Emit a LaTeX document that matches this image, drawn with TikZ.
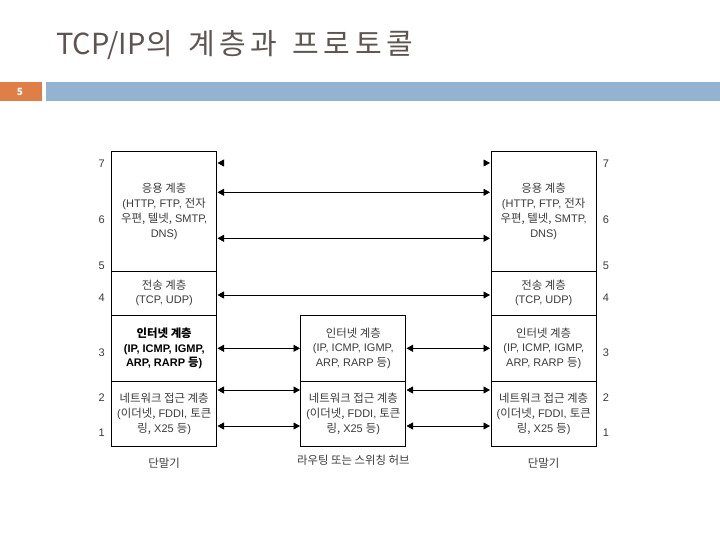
\documentclass[tikz,border=0pt]{standalone}
\usepackage{fontspec}
\setmainfont{Liberation Sans}
\newfontfamily\krfont{Noto Sans CJK KR}
\newfontfamily\titlefont{Noto Sans CJK KR}
\newfontfamily\titlekr[LetterSpace=16]{Noto Sans CJK KR}
\newcommand{\hg}[1]{{\krfont\fontsize{11.4}{14.8}\selectfont #1}}
\newcommand{\tk}[1]{{\titlekr #1}}
\usetikzlibrary{arrows.meta}
\definecolor{orangebar}{HTML}{DF7E47}
\definecolor{bluebar}{HTML}{94B3D3}
\definecolor{titlegray}{HTML}{5E5552}
\definecolor{txtgray}{HTML}{3A3A3A}
\tikzset{
  layer/.style={draw=black, line width=0.9pt, minimum width=105pt, inner sep=0pt, outer sep=0pt},
  ltext/.style={font=\fontsize{11}{14.8}\selectfont, text=txtgray, align=center, inner sep=0pt},
  numlbl/.style={font=\fontsize{11}{13}\selectfont, text=txtgray, inner sep=0pt},
  captxt/.style={font=\fontsize{11}{12}\selectfont, text=txtgray, inner sep=0pt},
  link/.style={line width=0.9pt, {Triangle[length=6.5pt,width=7pt]}-{Triangle[length=6.5pt,width=7pt]}},
  tipr/.style={line width=0.9pt, -{Triangle[length=6.5pt,width=7pt]}},
}
\begin{document}
\begin{tikzpicture}[x=1pt,y=-1pt]
\useasboundingbox (0,0) rectangle (720,540);
% header
\node[anchor=base west, inner sep=0pt, text=titlegray, font=\titlefont\fontsize{29}{34}\selectfont] (title) at (56,55) {TCP/IP\hspace{1pt}\tk{의}\hspace{15pt}\tk{계층과}\hspace{15pt}\tk{프로토콜}};
\fill[orangebar] (0,82) rectangle (42,101);
\node[text=white, font=\krfont\fontsize{10}{12}\selectfont\bfseries, inner sep=0pt] (pnum) at (20,91.5) {5};
\fill[bluebar] (46,82) rectangle (720,101);

% left host stack
\node[layer, minimum height=119.3pt] (LA) at (164.2,211.35) {};
\node[layer, minimum height=44pt] (LT) at (164.2,293) {};
\node[layer, minimum height=66.7pt] (LI) at (164.2,348.35) {};
\node[layer, minimum height=64.3pt] (LN) at (164.2,413.85) {};
% right host stack
\node[layer, minimum height=119.3pt] (RA) at (543.7,211.35) {};
\node[layer, minimum height=44pt] (RT) at (543.7,293) {};
\node[layer, minimum height=66.7pt] (RI) at (543.7,348.35) {};
\node[layer, minimum height=64.3pt] (RN) at (543.7,413.85) {};
% middle router stack
\node[layer, minimum height=66.7pt] (MI) at (353.3,348.35) {};
\node[layer, minimum height=64.3pt] (MN) at (353.3,413.85) {};

% texts
\node[ltext] (tLA) at (LA.center) {\hg{응용 계층}\\(HTTP, FTP, \hg{전자}\\\hg{우편, 텔넷,} SMTP,\\DNS)};
\node[ltext] (tLT) at (LT.center) {\hg{전송 계층}\\(TCP, UDP)};
\node[ltext, text=black, font=\fontsize{11}{14.8}\selectfont\bfseries] (tLI) at (LI.center) {\hg{\bfseries 인터넷 계층}\\(IP, ICMP, IGMP,\\ARP, RARP \hg{\bfseries 등})};
\node[ltext] (tLN) at (LN.center) {\hg{네트워크 접근 계층}\\(\hg{이더넷,} FDDI, \hg{토큰}\\\hg{링,} X25 \hg{등})};
\node[ltext] (tRA) at (RA.center) {\hg{응용 계층}\\(HTTP, FTP, \hg{전자}\\\hg{우편, 텔넷,} SMTP,\\DNS)};
\node[ltext] (tRT) at (RT.center) {\hg{전송 계층}\\(TCP, UDP)};
\node[ltext] (tRI) at (RI.center) {\hg{인터넷 계층}\\(IP, ICMP, IGMP,\\ARP, RARP \hg{등})};
\node[ltext] (tRN) at (RN.center) {\hg{네트워크 접근 계층}\\(\hg{이더넷,} FDDI, \hg{토큰}\\\hg{링,} X25 \hg{등})};
\node[ltext] (tMI) at (MI.center) {\hg{인터넷 계층}\\(IP, ICMP, IGMP,\\ARP, RARP \hg{등})};
\node[ltext] (tMN) at (MN.center) {\hg{네트워크 접근 계층}\\(\hg{이더넷,} FDDI, \hg{토큰}\\\hg{링,} X25 \hg{등})};

% captions
\node[captxt] (cL) at (164.2,463) {\hg{단말기}};
\node[captxt] (cR) at (543.7,463) {\hg{단말기}};
\node[captxt] (cM) at (353.3,460) {\hg{라우팅 또는 스위칭 허브}};

% layer numbers
\foreach \n/\y in {7/164,6/220,5/266,4/298,3/353,2/398,1/432.5}{
  \node[numlbl] (nl\n) at (101.7,\y) {\n};
  \node[numlbl] (nr\n) at (606,\y) {\n};
}

% arrow end points
\coordinate (a7l) at (217.5,163);
\coordinate (a7ls) at (220,163);
\coordinate (a7r) at (490,163);
\coordinate (a7rs) at (487.5,163);
\foreach \k/\y in {a/192.3,b/238.3,c/295}{
  \coordinate (\k l) at (217.5,\y);
  \coordinate (\k r) at (490,\y);
}
\foreach \k/\y in {d/348.3,e/390,f/426}{
  \coordinate (\k l) at (217.5,\y);
  \coordinate (\k ml) at (300,\y);
  \coordinate (\k mr) at (406.5,\y);
  \coordinate (\k r) at (490,\y);
}
% arrows
\draw[tipr] (a7ls) -- (a7l);
\draw[tipr] (a7rs) -- (a7r);
\draw[link] (al) -- (ar);
\draw[link] (bl) -- (br);
\draw[link] (cl) -- (cr);
\foreach \k in {d,e,f}{
  \draw[link] (\k l) -- (\k ml);
  \draw[link] (\k mr) -- (\k r);
}
\end{tikzpicture}
\end{document}
